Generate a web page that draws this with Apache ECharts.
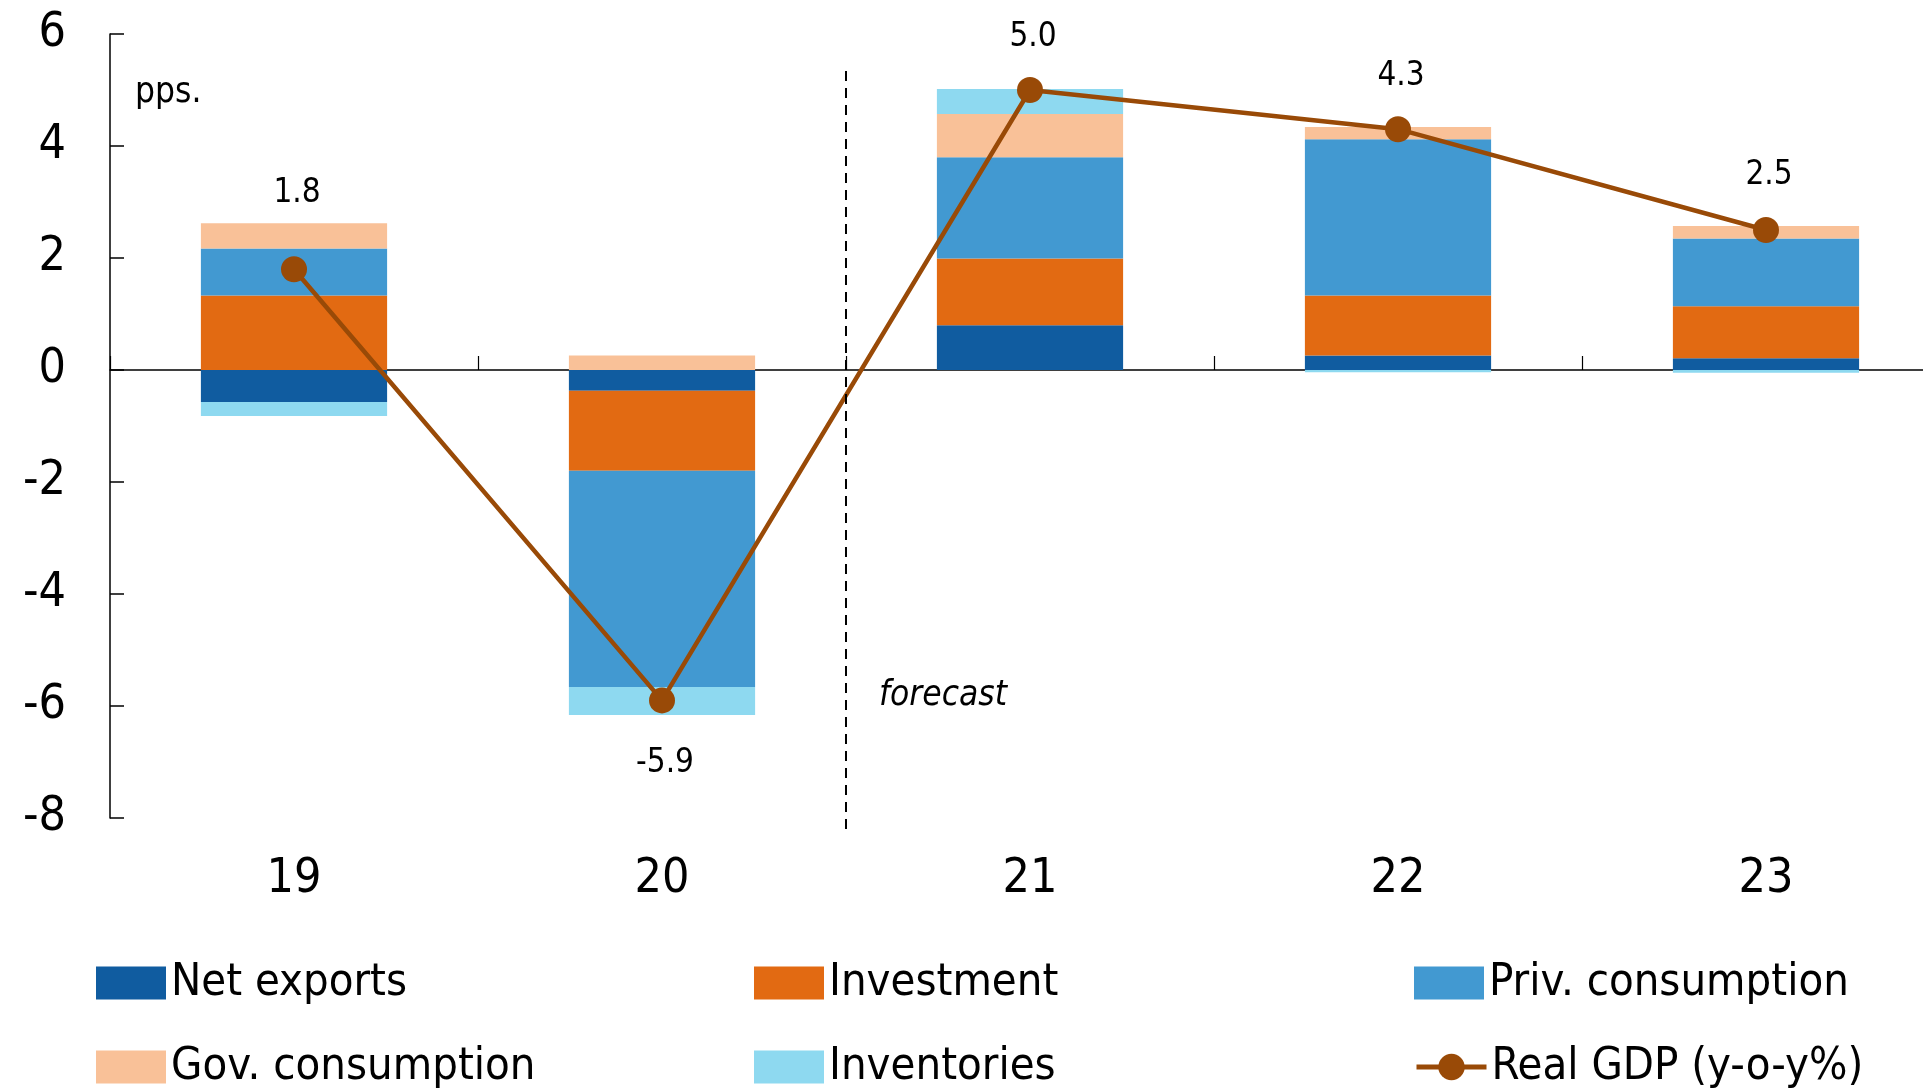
<!DOCTYPE html>
<html>
<head>
<meta charset="utf-8">
<script src="https://cdn.jsdelivr.net/npm/echarts@6/dist/echarts.min.js"></script>
<style>
html,body{margin:0;padding:0;background:#fff;overflow:hidden;width:1923px;height:1092px;}
#chart{width:1950px;height:1092px;}
</style>
</head>
<body>
<div id="chart"></div>
<script>
const categories = ['19', '20', '21', '22', '23'];
const netExports = [-0.57, -0.37, 0.80, 0.26, 0.21];
const investment = [1.33, -1.43, 1.19, 1.07, 0.93];
const privConsumption = [0.84, -3.86, 1.81, 2.79, 1.21];
const govConsumption = [0.45, 0.26, 0.77, 0.22, 0.22];
const inventories = [-0.25, -0.50, 0.45, -0.04, -0.05];
const realGDP = [1.8, -5.9, 5.0, 4.3, 2.5];
const gdpLabelOffsets = [-76, 63, -53, -53, -55];
const yMin = -8, yMax = 6, yInterval = 2;

const FONT = "'DejaVu Sans Condensed', 'Liberation Sans Narrow', 'DejaVu Sans', sans-serif";
const colors = {
  net: '#105CA0', inv: '#E26A12', priv: '#4299D1', gov: '#F9C198', invt: '#8ED9F0', gdp: '#994A07'
};

const chart = echarts.init(document.getElementById('chart'));

function barSeries(name, data, color) {
  return {
    name: name, type: 'bar', stack: 'total', data: data, xAxisIndex: 0,
    barWidth: '50.6%', itemStyle: { color: color }, emphasis: { disabled: true }
  };
}

function legendItem(name, left, top, extra) {
  return Object.assign({
    data: [{ name: name, icon: 'rect' }], left: left, top: top, padding: 0,
    itemWidth: 70, itemHeight: 33, selectedMode: false,
    textStyle: { fontFamily: FONT, fontSize: 45, color: '#000', lineHeight: 56 }
  }, extra || {});
}

const option = {
  animation: false,
  backgroundColor: '#fff',
  grid: { left: 110, top: 34, right: 0, bottom: 274, containLabel: false },
  legend: [
    legendItem('Net exports', 96, 955),
    legendItem('Investment', 754, 955),
    legendItem('Priv. consumption', 1414, 955),
    legendItem('Gov. consumption', 96, 1039),
    legendItem('Inventories', 754, 1039),
    legendItem('Real GDP (y-o-y%)', 1414, 1039, { data: ['Real GDP (y-o-y%)'], lineStyle: { width: 5 } })
  ],
  xAxis: [
    {
      type: 'category', data: categories, position: 'bottom',
      axisLine: { show: false, onZero: false }, axisTick: { show: false },
      axisLabel: { fontFamily: FONT, fontSize: 48, color: '#000', margin: 38 }
    },
    {
      type: 'category', data: categories, position: 'bottom',
      axisLine: { show: true, onZero: true, lineStyle: { color: '#000', width: 1.5 } },
      axisTick: { show: true, inside: true, length: 14, lineStyle: { color: '#000', width: 1.2 } },
      axisLabel: { show: false }
    }
  ],
  yAxis: {
    type: 'value', min: yMin, max: yMax, interval: yInterval,
    axisLine: { show: true, lineStyle: { color: '#000', width: 1.5 } },
    axisTick: { show: true, inside: true, length: 14, lineStyle: { color: '#000', width: 1.5 } },
    splitLine: { show: false },
    axisLabel: { fontFamily: FONT, fontSize: 48, color: '#000', margin: 44 }
  },
  series: [
    barSeries('Net exports', netExports, colors.net),
    barSeries('Investment', investment, colors.inv),
    barSeries('Priv. consumption', privConsumption, colors.priv),
    barSeries('Gov. consumption', govConsumption, colors.gov),
    barSeries('Inventories', inventories, colors.invt),
    {
      name: 'Real GDP (y-o-y%)', type: 'line', xAxisIndex: 0,
      data: realGDP.map((v, i) => ({
        value: v,
        label: { show: true, position: 'inside', offset: [3, gdpLabelOffsets[i]] }
      })),
      symbol: 'circle', symbolSize: 26,
      lineStyle: { color: colors.gdp, width: 4.5 },
      itemStyle: { color: colors.gdp },
      label: {
        fontFamily: FONT, fontSize: 33, color: '#000',
        formatter: p => Number(p.value).toFixed(1)
      },
      emphasis: { disabled: true },
      z: 5
    }
  ]
};

chart.setOption(option);

// Annotations placed via the chart's own scales
const x1 = chart.convertToPixel({ xAxisIndex: 0 }, categories[1]);
const x2 = chart.convertToPixel({ xAxisIndex: 0 }, categories[2]);
const xs = (x1 + x2) / 2;
const yTop = chart.convertToPixel({ yAxisIndex: 0 }, 5.34);
const yBot = chart.convertToPixel({ yAxisIndex: 0 }, -8.21);
const yForecast = chart.convertToPixel({ yAxisIndex: 0 }, -5.87);
const yPps = chart.convertToPixel({ yAxisIndex: 0 }, 4.9);
const xAxisLeft = chart.convertToPixel({ xAxisIndex: 0 }, categories[0]) - (x2 - x1) / 2;

chart.setOption({
  graphic: [
    {
      type: 'line', z: 10,
      shape: { x1: xs, y1: yTop, x2: xs, y2: yBot },
      style: { stroke: '#000', lineWidth: 2, lineDash: [10, 7] }
    },
    {
      type: 'text', z: 10, left: xs + 33, top: yForecast - 20,
      style: { text: 'forecast', font: "italic 35px " + FONT, fill: '#000' }
    },
    {
      type: 'text', z: 10, left: xAxisLeft + 25, top: yPps - 20,
      style: { text: 'pps.', font: "35px " + FONT, fill: '#000' }
    }
  ]
});
</script>
</body>
</html>
